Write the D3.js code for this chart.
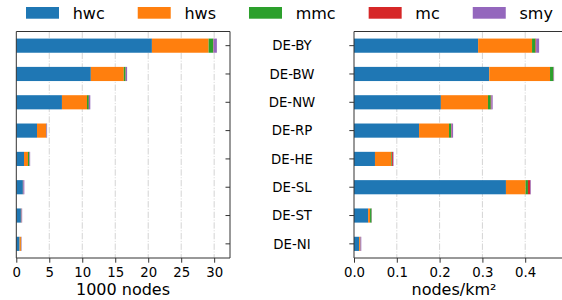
<!DOCTYPE html>
<html>
<head>
  <script src="https://d3js.org/d3.v7.min.js"></script>
  <style>
    body { margin: 0; background: #fff; }
    svg { font-family: "DejaVu Sans", sans-serif; display: block; }
    .axis path { display: none; }
    .axis line { stroke: #333; }
    .grid line { stroke: #d4d4d4; stroke-width: 1px; stroke-dasharray: 6.4 1.6 1 1.6; }
    .frame { fill: none; stroke: #333; stroke-width: 1px; }
  </style>
</head>
<body>
  <script>
    var states = ["DE-BY", "DE-BW", "DE-NW", "DE-RP", "DE-HE", "DE-SL", "DE-ST", "DE-NI"];
    var series = ["hwc", "hws", "mmc", "mc", "smy"];
    var colors = ["#1f77b4", "#ff7f0e", "#2ca02c", "#d62728", "#9467bd"];

    // 1000 nodes
    var nodesHwc = [20.56, 11.3, 6.92, 3.14, 1.17, 1.0, 0.7, 0.5];
    var nodesHws = [8.6, 5.0, 3.8, 1.36, 0.6, 0.03, 0.05, 0.2];
    var nodesMmc = [0.7, 0.27, 0.27, 0.05, 0.2, 0.02, 0.03, 0.03];
    var nodesMc  = [0.05, 0.03, 0.03, 0.02, 0.03, 0.02, 0.01, 0.01];
    var nodesSmy = [0.5, 0.2, 0.2, 0.1, 0.1, 0.15, 0.1, 0.06];

    // nodes per km2
    var densHwc = [0.290, 0.316, 0.203, 0.152, 0.049, 0.355, 0.033, 0.012];
    var densHws = [0.126, 0.142, 0.110, 0.070, 0.038, 0.046, 0.0045, 0.002];
    var densMmc = [0.008, 0.008, 0.0066, 0.0048, 0.0016, 0.0054, 0.0035, 0.0005];
    var densMc  = [0.0015, 0.0005, 0.0014, 0.0012, 0.0023, 0.0055, 0.0003, 0.0007];
    var densSmy = [0.007, 0.001, 0.003, 0.0035, 0.0015, 0.0015, 0.0005, 0.0018];

    var nodesTicks = [0, 5, 10, 15, 20, 25, 30];
    var densTicks = [0, 0.1, 0.2, 0.3, 0.4];

    function table(cols) {
      return states.map(function(s, i) {
        var row = { state: s };
        series.forEach(function(k, j) { row[k] = cols[j][i]; });
        return row;
      });
    }
    var nodesData = table([nodesHwc, nodesHws, nodesMmc, nodesMc, nodesSmy]);
    var densData = table([densHwc, densHws, densMmc, densMc, densSmy]);

    var width = 562, height = 300;
    var plotTop = 31.5, plotBottom = 258;
    var svg = d3.select("body").append("svg")
        .attr("width", width)
        .attr("height", height);

    var y = d3.scaleBand()
        .domain(states)
        .range([plotTop, plotBottom])
        .paddingInner(0.5)
        .paddingOuter(0.25);

    var color = d3.scaleOrdinal().domain(series).range(colors);
    var stack = d3.stack().keys(series);

    function panel(data, x, ticks, fmt, label, labelX) {
      var x0 = x.range()[0], x1 = x.range()[1];
      // grid
      svg.append("g")
          .attr("class", "grid")
        .selectAll("line")
          .data(ticks.filter(function(t) { return t > 0; }))
        .enter().append("line")
          .attr("x1", function(d) { return x(d); })
          .attr("x2", function(d) { return x(d); })
          .attr("y1", plotTop)
          .attr("y2", plotBottom);

      svg.append("g").selectAll("g")
          .data(stack(data))
        .enter().append("g")
          .attr("fill", function(d) { return color(d.key); })
        .selectAll("rect")
          .data(function(d) { return d; })
        .enter().append("rect")
          .attr("x", function(d) { return x(d[0]); })
          .attr("width", function(d) { return x(d[1]) - x(d[0]); })
          .attr("y", function(d) { return y(d.data.state); })
          .attr("height", y.bandwidth());

      var ax = svg.append("g")
          .attr("class", "x axis")
          .attr("transform", "translate(0," + plotBottom + ")")
          .call(d3.axisBottom(x).tickValues(ticks).tickFormat(fmt).tickSize(4.7).tickPadding(4.5));
      ax.attr("font-size", null).attr("font-family", null);
      ax.selectAll("text").style("font-size", "13.3px").attr("fill", "#000");

      svg.append("path")
          .attr("class", "frame")
          .attr("d", "M" + x0 + "," + plotTop + "V" + plotBottom + "H" + x1 + "V" + plotTop + "Z");

      svg.append("text")
          .attr("x", labelX)
          .attr("y", 295)
          .attr("text-anchor", "middle")
          .style("font-size", "16px")
          .text(label);
    }

    var xNodes = d3.scaleLinear().domain([0, 32.4]).range([16.3, 230]);
    var xDens = d3.scaleLinear().domain([0, 0.5]).range([354, 568]);

    panel(nodesData, xNodes, nodesTicks, d3.format("d"), "1000 nodes", 123);
    panel(densData, xDens, densTicks, d3.format(".1f"), "nodes/km\u00b2", 454);

    // y ticks: inner ticks on the left panel, outer ticks and centred labels on the right panel
    var yTicks = svg.append("g").attr("class", "axis");
    states.forEach(function(s) {
      var cy = y(s) + y.bandwidth() / 2;
      yTicks.append("line").attr("x1", 230).attr("x2", 225.5).attr("y1", cy).attr("y2", cy);
      yTicks.append("line").attr("x1", 354).attr("x2", 349.3).attr("y1", cy).attr("y2", cy);
      yTicks.append("text")
          .attr("x", 292)
          .attr("y", cy)
          .attr("dy", "0.36em")
          .attr("text-anchor", "middle")
          .style("font-size", "13.3px")
          .text(s);
    });

    // legend
    var legend = svg.append("g").style("font-size", "16px");
    var lx = 26;
    series.forEach(function(k) {
      legend.append("rect")
          .attr("x", lx)
          .attr("y", 7)
          .attr("width", 33)
          .attr("height", 11.7)
          .attr("fill", color(k));
      var t = legend.append("text")
          .attr("x", lx + 46.7)
          .attr("y", 19)
          .text(k);
      lx = lx + 46.7 + t.node().getComputedTextLength() + 33;
    });
  </script>
</body>
</html>
